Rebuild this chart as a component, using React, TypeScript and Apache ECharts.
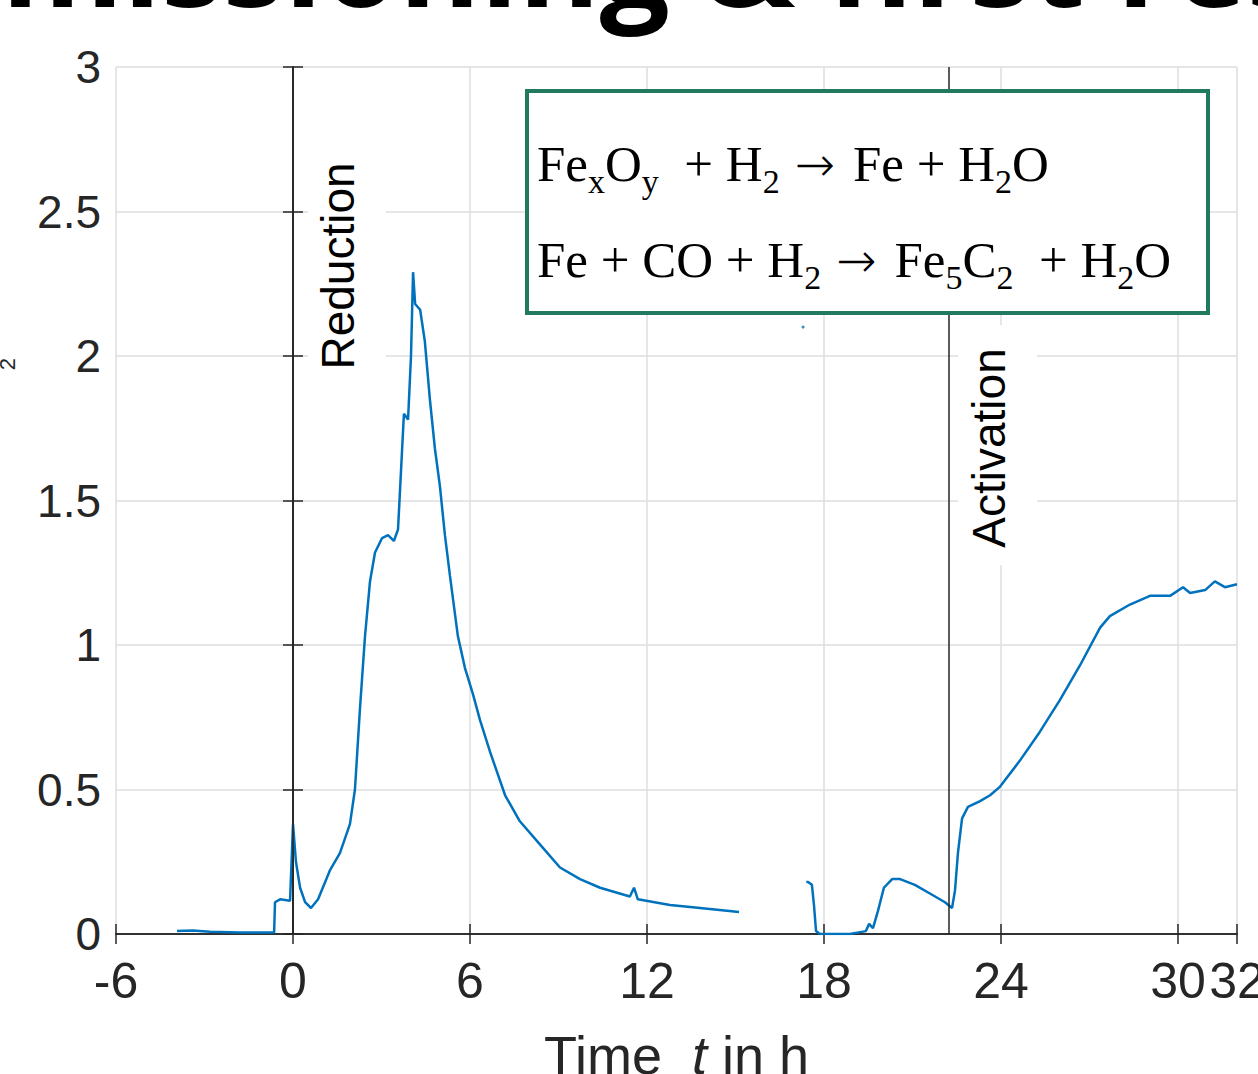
import React, { useEffect, useRef } from "react";
import * as echarts from "echarts";

// ---- data ----
const reductionTimes = [
  -3.93, -3.4, -2.81, -1.8, -0.64, -0.61, -0.44, -0.1, 0.0, 0.1, 0.24, 0.41, 0.61, 0.85, 1.25, 1.59,
  1.93, 2.1, 2.27, 2.44, 2.61, 2.78, 3.02, 3.22, 3.42, 3.56, 3.66, 3.76, 3.9, 4.0, 4.07, 4.14, 4.31,
  4.47, 4.64, 4.81, 4.98, 5.15, 5.32, 5.59, 5.83, 6.1, 6.34, 6.68, 7.19, 7.69, 8.37, 9.05, 9.73,
  10.41, 11.42, 11.56, 11.69, 12.78, 13.8, 15.12,
];
const reductionValues = [
  0.01, 0.012, 0.008, 0.005, 0.005, 0.11, 0.12, 0.115, 0.38, 0.25, 0.16, 0.11, 0.09, 0.12, 0.22, 0.28,
  0.38, 0.5, 0.78, 1.03, 1.22, 1.32, 1.37, 1.38, 1.36, 1.4, 1.6, 1.8, 1.78, 2.0, 2.29, 2.18, 2.16,
  2.05, 1.85, 1.68, 1.55, 1.38, 1.24, 1.03, 0.92, 0.83, 0.74, 0.63, 0.48, 0.39, 0.31, 0.23, 0.19,
  0.16, 0.13, 0.16, 0.12, 0.1, 0.09, 0.076,
];
const activationTimes = [
  17.4, 17.46, 17.59, 17.66, 17.73, 17.86, 18.88, 19.42, 19.53, 19.66, 19.83, 20.03, 20.31, 20.58,
  21.08, 21.59, 22.1, 22.34, 22.44, 22.54, 22.68, 22.88, 23.29, 23.63, 23.97, 24.64, 25.32, 26.0,
  26.68, 27.36, 27.69, 28.37, 29.05, 29.73, 30.17, 30.41, 30.92, 31.25, 31.59, 32.0,
];
const activationValues = [
  0.18, 0.18, 0.17, 0.1, 0.01, 0.0, 0.0, 0.01, 0.035, 0.02, 0.08, 0.16, 0.19, 0.19,
  0.17, 0.14, 0.11, 0.09, 0.15, 0.28, 0.4, 0.44, 0.46, 0.48, 0.51, 0.6, 0.7, 0.81,
  0.93, 1.06, 1.1, 1.14, 1.17, 1.17, 1.2, 1.18, 1.19, 1.22, 1.2, 1.21,
];
const strayTimes = [17.29];
const strayValues = [2.1];
const phaseMarkers = [0, 22.24];
const phaseLabels = ["Reduction", "Activation"];
const xRange = [-6, 32];
const xStep = 6;
const yRange = [0, 3];
const yStep = 0.5;
const titleText = "Commissioning & first results";
const xName = "Time  {i|t} in h";
const eq1 = "{m|Fe}{s|x}{m|O}{s|y}{m|  + H}{s|2}{a|\u2192}{m|Fe + H}{s|2}{m|O}";
const eq2 = "{m|Fe + CO + H}{s|2}{a|\u2192}{m|Fe}{s|5}{m|C}{s|2}{m|  + H}{s|2}{m|O}";

const pairs = (xs: number[], ys: number[]) => xs.map((x, i) => [x, ys[i]]);

const AX = "#262626";
const SANS = "Liberation Sans, Arial, sans-serif";
const SERIF = "Liberation Serif, Times New Roman, serif";
const BLUE = "#0072BD";

export default function App() {
  const ref = useRef<HTMLDivElement>(null);
  useEffect(() => {
    if (!ref.current) return;
    const chart = echarts.init(ref.current, undefined, { renderer: "svg", width: 1258, height: 1074 });
    const axisCommon = {
      type: "value" as const,
      axisLine: { show: true, lineStyle: { color: AX, width: 1.5 } },
      axisTick: { show: true, inside: true, length: 10, lineStyle: { color: AX, width: 1.5 } },
    };
    const eqRich = {
      m: { fontSize: 51, fontFamily: SERIF, color: "#000", lineHeight: 68, verticalAlign: "middle" },
      s: { fontSize: 34, fontFamily: SERIF, color: "#000", verticalAlign: "bottom" },
      a: {
        fontSize: 48,
        fontFamily: "DejaVu Sans",
        fontWeight: 200,
        color: "#000",
        verticalAlign: "middle",
        padding: [0, 18, 0, 15],
      },
    };
    chart.setOption({
      animation: false,
      backgroundColor: "#fff",
      grid: { left: 116, right: 21, top: 67, bottom: 140, containLabel: false, outerBoundsMode: "none" },
      xAxis: [
        {
          ...axisCommon,
          position: "bottom",
          min: xRange[0],
          max: xRange[1],
          interval: xStep,
          axisLabel: { fontSize: 50, fontFamily: SANS, color: AX, margin: 22 },
          splitLine: { show: true, lineStyle: { color: "#dedede", width: 1.5 } },
          name: xName,
          nameLocation: "middle",
          nameGap: 94,
          nameTextStyle: {
            fontSize: 54,
            fontFamily: SANS,
            color: AX,
            rich: { i: { fontSize: 54, fontFamily: SANS, color: AX, fontStyle: "italic" } },
          },
        },
        {
          ...axisCommon,
          position: "top",
          min: xRange[0],
          max: xRange[1],
          interval: xStep,
          axisLabel: { show: false },
          splitLine: { show: false },
        },
      ],
      yAxis: [
        {
          ...axisCommon,
          position: "left",
          min: yRange[0],
          max: yRange[1],
          interval: yStep,
          axisLabel: { fontSize: 46, fontFamily: SANS, color: AX, margin: 15 },
          splitLine: { show: true, lineStyle: { color: "#dedede", width: 1.5 } },
        },
        {
          ...axisCommon,
          position: "right",
          min: yRange[0],
          max: yRange[1],
          interval: yStep,
          axisLabel: { show: false },
          splitLine: { show: false },
        },
      ],
      series: [
        {
          type: "line",
          data: pairs(reductionTimes, reductionValues),
          showSymbol: false,
          lineStyle: { color: BLUE, width: 2.5 },
          z: 3,
          markLine: {
            silent: true,
            symbol: ["none", "none"],
            label: { show: false },
            lineStyle: { color: AX, width: 1.5, type: "solid" },
            data: phaseMarkers.map((v) => ({ xAxis: v })),
          },
        },
        {
          type: "line",
          data: pairs(activationTimes, activationValues),
          showSymbol: false,
          lineStyle: { color: BLUE, width: 2.5 },
          z: 3,
        },
        {
          type: "scatter",
          data: pairs(strayTimes, strayValues),
          symbolSize: 3,
          itemStyle: { color: BLUE },
        },
      ],
      graphic: [
        { type: "rect", z: 100, shape: { x: 308, y: 69, width: 78, height: 313 }, style: { fill: "#fff" } },
        {
          type: "text",
          z: 101,
          x: 338,
          y: 266,
          rotation: Math.PI / 2,
          style: { text: phaseLabels[0], font: `46px ${SANS}`, fill: "#000", align: "center", verticalAlign: "middle" },
        },
        { type: "rect", z: 100, shape: { x: 958, y: 325, width: 79, height: 240 }, style: { fill: "#fff" } },
        {
          type: "text",
          z: 101,
          x: 989,
          y: 448,
          rotation: Math.PI / 2,
          style: { text: phaseLabels[1], font: `46px ${SANS}`, fill: "#000", align: "center", verticalAlign: "middle" },
        },
        {
          type: "rect",
          z: 100,
          shape: { x: 527, y: 91, width: 681, height: 222 },
          style: { fill: "#fff", stroke: "#217a5f", lineWidth: 4 },
        },
        {
          type: "text",
          z: 101,
          x: 537,
          y: 130,
          style: { text: eq1, rich: eqRich, align: "left", verticalAlign: "top" },
        },
        {
          type: "text",
          z: 101,
          x: 537,
          y: 226,
          style: { text: eq2, rich: eqRich, align: "left", verticalAlign: "top" },
        },
        {
          type: "text",
          z: 101,
          x: -276,
          y: -42,
          style: { text: titleText, font: `bold 124px "Open Sans", sans-serif`, fill: "#000", align: "left", verticalAlign: "middle" },
        },
        {
          type: "text",
          z: 101,
          x: 7,
          y: 364,
          rotation: Math.PI / 2,
          style: { text: "2", font: `22px ${SANS}`, fill: AX, align: "center", verticalAlign: "middle" },
        },
      ],
    });
    return () => chart.dispose();
  }, []);
  return <div ref={ref} style={{ position: "absolute", left: 0, top: 0, width: 1258, height: 1074 }} />;
}
